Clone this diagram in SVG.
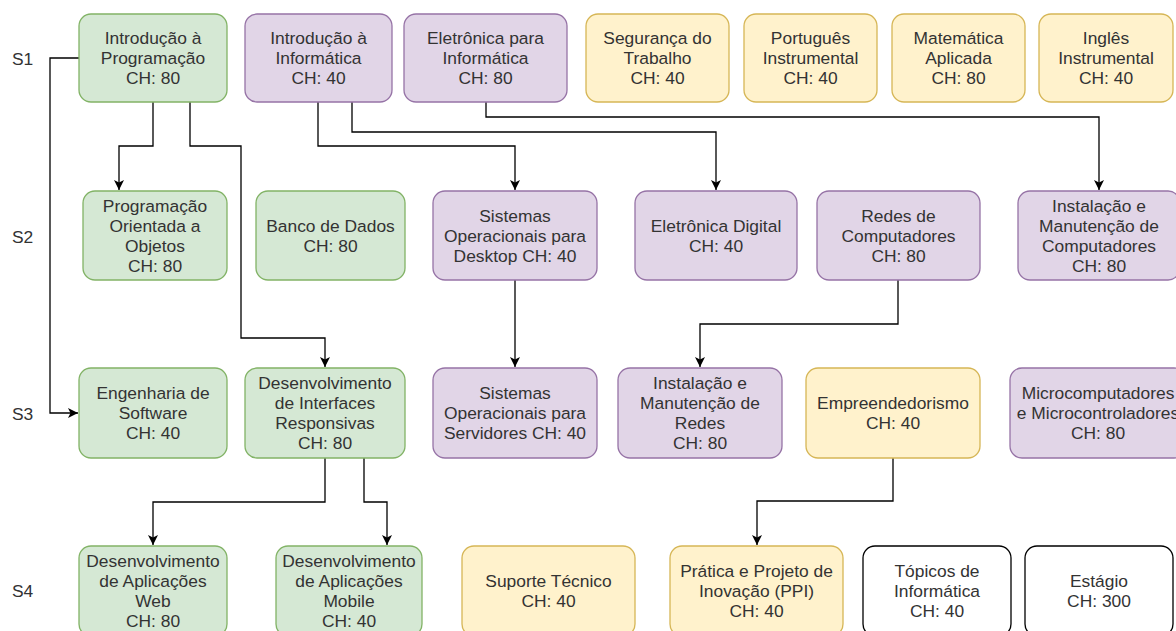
<svg xmlns="http://www.w3.org/2000/svg" width="1176" height="631" viewBox="0 0 1176 631">
<style>
.n rect{stroke-width:1.3}
.g rect{fill:#d5e8d4;stroke:#82b366}
.p rect{fill:#e1d5e7;stroke:#9673a6}
.y rect{fill:#fff2cc;stroke:#d6b656}
.w rect{fill:#ffffff;stroke:#000000}
text{font-family:"Liberation Sans",Arial,Helvetica,sans-serif;font-size:17.4px;fill:#333333;text-anchor:middle}
.lbl{text-anchor:start}
#connectors path{fill:none;stroke:#000000;stroke-width:1.3}
</style>
<defs>
<marker id="arr" viewBox="0 0 10 10" refX="10" refY="5" markerWidth="10" markerHeight="10" markerUnits="userSpaceOnUse" orient="auto">
<path d="M0,0 L10,5 L0,10 L2.5,5 Z" fill="#000000"/>
</marker>
</defs>
<rect x="0" y="0" width="1176" height="631" fill="#ffffff"/>
<g id="labels">
<text class="lbl" x="12" y="65">S1</text>
<text class="lbl" x="12" y="243">S2</text>
<text class="lbl" x="12" y="420">S3</text>
<text class="lbl" x="12" y="597">S4</text>
</g>
<g id="connectors">
<path d="M79,58 H50 V413 H78" marker-end="url(#arr)"/>
<path d="M153,102 V146 H119 V190" marker-end="url(#arr)"/>
<path d="M190,102 V146 H241 V338 H325 V367" marker-end="url(#arr)"/>
<path d="M318,102 V146 H515 V190" marker-end="url(#arr)"/>
<path d="M352,102 V132 H716 V190" marker-end="url(#arr)"/>
<path d="M486,102 V117 H1099 V190" marker-end="url(#arr)"/>
<path d="M515,280 V367" marker-end="url(#arr)"/>
<path d="M898,280 V324 H700 V367" marker-end="url(#arr)"/>
<path d="M325,458 V502 H153 V545" marker-end="url(#arr)"/>
<path d="M364,458 V502 H387 V545" marker-end="url(#arr)"/>
<path d="M893,458 V501 H757 V545" marker-end="url(#arr)"/>
</g>
<g id="n1" class="n g"><rect x="79" y="14" width="148" height="88" rx="12"/><text x="153" y="44">Introdução à</text><text x="153" y="64">Programação</text><text x="153" y="84">CH: 80</text></g>
<g id="n2" class="n p"><rect x="245" y="14" width="147" height="88" rx="12"/><text x="318.5" y="44">Introdução à</text><text x="318.5" y="64">Informática</text><text x="318.5" y="84">CH: 40</text></g>
<g id="n3" class="n p"><rect x="404" y="14" width="163" height="88" rx="12"/><text x="485.5" y="44">Eletrônica para</text><text x="485.5" y="64">Informática</text><text x="485.5" y="84">CH: 80</text></g>
<g id="n4" class="n y"><rect x="586" y="14" width="143" height="88" rx="12"/><text x="657.5" y="44">Segurança do</text><text x="657.5" y="64">Trabalho</text><text x="657.5" y="84">CH: 40</text></g>
<g id="n5" class="n y"><rect x="744" y="14" width="133" height="88" rx="12"/><text x="810.5" y="44">Português</text><text x="810.5" y="64">Instrumental</text><text x="810.5" y="84">CH: 40</text></g>
<g id="n6" class="n y"><rect x="892" y="14" width="133" height="88" rx="12"/><text x="958.5" y="44">Matemática</text><text x="958.5" y="64">Aplicada</text><text x="958.5" y="84">CH: 80</text></g>
<g id="n7" class="n y"><rect x="1039" y="14" width="134" height="88" rx="12"/><text x="1106" y="44">Inglês</text><text x="1106" y="64">Instrumental</text><text x="1106" y="84">CH: 40</text></g>
<g id="n8" class="n g"><rect x="83" y="191" width="144" height="89" rx="12"/><text x="155" y="212">Programação</text><text x="155" y="232">Orientada a</text><text x="155" y="252">Objetos</text><text x="155" y="272">CH: 80</text></g>
<g id="n9" class="n g"><rect x="256" y="191" width="149" height="89" rx="12"/><text x="330.5" y="232">Banco de Dados</text><text x="330.5" y="252">CH: 80</text></g>
<g id="n10" class="n p"><rect x="433" y="191" width="164" height="89" rx="12"/><text x="515" y="222">Sistemas</text><text x="515" y="242">Operacionais para</text><text x="515" y="262">Desktop CH: 40</text></g>
<g id="n11" class="n p"><rect x="635" y="191" width="162" height="89" rx="12"/><text x="716" y="232">Eletrônica Digital</text><text x="716" y="252">CH: 40</text></g>
<g id="n12" class="n p"><rect x="817" y="191" width="163" height="89" rx="12"/><text x="898.5" y="222">Redes de</text><text x="898.5" y="242">Computadores</text><text x="898.5" y="262">CH: 80</text></g>
<g id="n13" class="n p"><rect x="1018" y="191" width="162" height="89" rx="12"/><text x="1099" y="212">Instalação e</text><text x="1099" y="232">Manutenção de</text><text x="1099" y="252">Computadores</text><text x="1099" y="272">CH: 80</text></g>
<g id="n14" class="n g"><rect x="79" y="368" width="148" height="90" rx="12"/><text x="153" y="399">Engenharia de</text><text x="153" y="419">Software</text><text x="153" y="439">CH: 40</text></g>
<g id="n15" class="n g"><rect x="245" y="368" width="160" height="90" rx="12"/><text x="325" y="389">Desenvolvimento</text><text x="325" y="409">de Interfaces</text><text x="325" y="429">Responsivas</text><text x="325" y="449">CH: 80</text></g>
<g id="n16" class="n p"><rect x="433" y="368" width="164" height="90" rx="12"/><text x="515" y="399">Sistemas</text><text x="515" y="419">Operacionais para</text><text x="515" y="439">Servidores CH: 40</text></g>
<g id="n17" class="n p"><rect x="618" y="368" width="164" height="90" rx="12"/><text x="700" y="389">Instalação e</text><text x="700" y="409">Manutenção de</text><text x="700" y="429">Redes</text><text x="700" y="449">CH: 80</text></g>
<g id="n18" class="n y"><rect x="806" y="368" width="174" height="90" rx="12"/><text x="893" y="409">Empreendedorismo</text><text x="893" y="429">CH: 40</text></g>
<g id="n19" class="n p"><rect x="1010" y="368" width="176" height="90" rx="12"/><text x="1098" y="399">Microcomputadores</text><text x="1098" y="419">e Microcontroladores</text><text x="1098" y="439">CH: 80</text></g>
<g id="n20" class="n g"><rect x="79" y="546" width="148" height="90" rx="12"/><text x="153" y="567">Desenvolvimento</text><text x="153" y="587">de Aplicações</text><text x="153" y="607">Web</text><text x="153" y="627">CH: 80</text></g>
<g id="n21" class="n g"><rect x="276" y="546" width="146" height="90" rx="12"/><text x="349" y="567">Desenvolvimento</text><text x="349" y="587">de Aplicações</text><text x="349" y="607">Mobile</text><text x="349" y="627">CH: 40</text></g>
<g id="n22" class="n y"><rect x="462" y="546" width="173" height="90" rx="12"/><text x="548.5" y="587">Suporte Técnico</text><text x="548.5" y="607">CH: 40</text></g>
<g id="n23" class="n y"><rect x="670" y="546" width="173" height="90" rx="12"/><text x="756.5" y="577">Prática e Projeto de</text><text x="756.5" y="597">Inovação (PPI)</text><text x="756.5" y="617">CH: 40</text></g>
<g id="n24" class="n w"><rect x="863" y="546" width="148" height="90" rx="12"/><text x="937" y="577">Tópicos de</text><text x="937" y="597">Informática</text><text x="937" y="617">CH: 40</text></g>
<g id="n25" class="n w"><rect x="1025" y="546" width="148" height="90" rx="12"/><text x="1099" y="587">Estágio</text><text x="1099" y="607">CH: 300</text></g>
</svg>
